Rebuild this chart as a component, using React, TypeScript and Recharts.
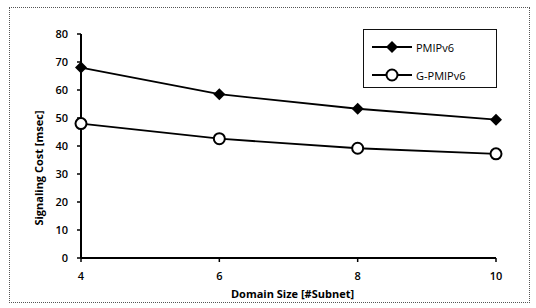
import { LineChart, Line, XAxis, YAxis } from 'recharts';

const domainSizes = [4, 6, 8, 10];
const pmipv6 = [68, 58.5, 53.3, 49.4];
const gPmipv6 = [48, 42.6, 39.2, 37.2];
const yTicks = [0, 10, 20, 30, 40, 50, 60, 70, 80];

const data = domainSizes.map((x, i) => ({ x, pmip: pmipv6[i], gpmip: gPmipv6[i] }));

const FONT = '"Open Sans", "Liberation Sans", sans-serif';

const Diamond = ({ cx, cy }: any) => (
  <path d={`M${cx},${cy - 6} L${cx + 6},${cy} L${cx},${cy + 6} L${cx - 6},${cy} Z`} fill="#000" />
);

const Ring = ({ cx, cy }: any) => (
  <circle cx={cx} cy={cy} r={5.5} fill="#fff" stroke="#000" strokeWidth={2} />
);

// y title sits a bit below the middle of the axis in the original
const YTitle = ({ viewBox }: any) => {
  const x = viewBox.x + 38;
  const y = viewBox.y + viewBox.height / 2 + 22;
  return (
    <text x={x} y={y} transform={`rotate(-90, ${x}, ${y})`} textAnchor="middle" dominantBaseline="central"
      fontFamily={FONT} fontSize={11} fontWeight={700} fill="#000">
      Signaling Cost [msec]
    </text>
  );
};

// legend drawn as a plain box over the chart, like the spreadsheet original
function LegendBox() {
  const rows = [
    { name: 'PMIPv6', Marker: Diamond },
    { name: 'G-PMIPv6', Marker: Ring },
  ];
  return (
    <div style={{ position: 'absolute', left: 363, top: 29, width: 134, height: 59, border: '1.5px solid #111', background: '#fff', boxSizing: 'border-box', paddingTop: 6 }}>
      {rows.map(({ name, Marker }) => (
        <div key={name} style={{ display: 'flex', alignItems: 'center', height: 22, marginBottom: 6 }}>
          <svg width={46} height={16} style={{ marginLeft: 6 }}>
            <line x1={2} y1={8} x2={42} y2={8} stroke="#000" strokeWidth={1.8} />
            <Marker cx={22} cy={8} />
          </svg>
          <span style={{ fontFamily: FONT, fontSize: 11, color: '#000' }}>{name}</span>
        </div>
      ))}
    </div>
  );
}

export default function App() {
  return (
    <div style={{ position: 'absolute', left: 0, top: 0, width: 536, height: 308, background: '#fff' }}>
      <div style={{ position: 'absolute', left: 9, top: 7, width: 519, height: 294, border: '1px dotted #555' }} />
      <div style={{ position: 'absolute', left: 0, top: 0 }}>
        <LineChart width={536} height={308} data={data} margin={{ top: 34, right: 40, bottom: 20, left: 0 }}>
          <XAxis
            dataKey="x"
            type="number"
            domain={[4, 10]}
            ticks={domainSizes}
            height={30}
            axisLine={{ stroke: '#000', strokeWidth: 2 }}
            tickLine={{ stroke: '#000', strokeWidth: 1.5 }}
            tickSize={4}
            tickMargin={10}
            tick={{ fontSize: 11, fill: '#000', fontFamily: FONT, fontWeight: 600 }}
            label={{ value: 'Domain Size [#Subnet]', position: 'bottom', offset: 2, dx: 4, fontSize: 11, fontWeight: 700, fill: '#000', fontFamily: FONT }}
          />
          <YAxis
            type="number"
            domain={[0, 80]}
            ticks={yTicks}
            width={81}
            axisLine={{ stroke: '#000', strokeWidth: 2 }}
            tickLine={{ stroke: '#000', strokeWidth: 1.5 }}
            tickSize={4}
            tickMargin={9}
            tick={{ fontSize: 11, fill: '#000', fontFamily: FONT, fontWeight: 600 }}
            label={<YTitle />}
          />
          <Line dataKey="pmip" name="PMIPv6" stroke="#000" strokeWidth={1.8} dot={<Diamond />} isAnimationActive={false} />
          <Line dataKey="gpmip" name="G-PMIPv6" stroke="#000" strokeWidth={1.8} dot={<Ring />} isAnimationActive={false} />
        </LineChart>
      </div>
      <LegendBox />
    </div>
  );
}
